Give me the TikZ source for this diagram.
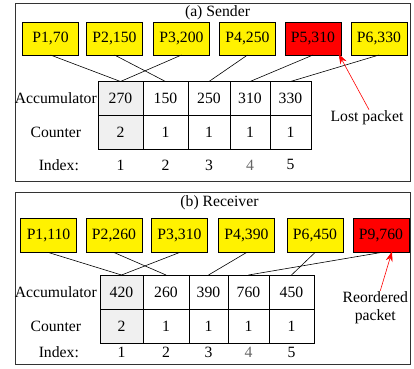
\documentclass[tikz,border=0pt]{standalone}
\usepackage{fontspec}
\setmainfont{Liberation Serif}
\usetikzlibrary{positioning, arrows.meta}

\begin{document}
\begin{tikzpicture}[
    x=1pt, y=-1pt, % Coordinates in points, y running downwards
    every node/.style={font=\fontsize{15.7}{18}\selectfont},
    packet/.style={draw, fill=yellow, minimum width=56pt, minimum height=33pt, inner sep=0pt}, % Style for packets
    lost/.style={packet, fill=red}, % Style for the marked packet
    cell/.style={draw, minimum width=#1, minimum height=34pt, inner sep=0pt, outer sep=0pt}, % Style for table cells
    cell/.default=42pt,
    shaded/.style={fill=black!6},
    rowlabel/.style={inner sep=1pt},
    idx/.style={inner sep=1pt},
    frame/.style={draw=black!80, line width=0.9pt},
    link/.style={line width=0.6pt},
    note/.style={-{Stealth[length=10pt, width=7pt]}, red, line width=0.6pt}
  ]
    \useasboundingbox (0,0) rectangle (414,368);

    % (a) Sender
    \draw[frame] (15,3) rectangle (410,181);
    \node (TS) at (217.5,13) {(a) Sender};

    % Define nodes
    \node[packet] (SP1) at (50.5,38.3)  {P1,70};
    \node[packet] (SP2) at (114.5,38.3) {P2,150};
    \node[packet] (SP3) at (181.5,38.3) {P3,200};
    \node[packet] (SP4) at (247.5,38.3) {P4,250};
    \node[lost]   (SP5) at (313,38.3)   {P5,310};
    \node[packet] (SP6) at (379,38.3)   {P6,330};

    \node[cell=45pt, shaded] (SA1) at (120.5,98.5)     {270};
    \node[cell=45pt] (SA2) [right=0pt of SA1]          {150};
    \node[cell=42pt] (SA3) [right=0pt of SA2]          {250};
    \node[cell=40pt] (SA4) [right=0pt of SA3]          {310};
    \node[cell=41pt] (SA5) [right=0pt of SA4]          {330};
    \node[cell=45pt, shaded] (SC1) [below=0pt of SA1]  {2};
    \node[cell=45pt] (SC2) [below=0pt of SA2]          {1};
    \node[cell=42pt] (SC3) [below=0pt of SA3]          {1};
    \node[cell=40pt] (SC4) [below=0pt of SA4]          {1};
    \node[cell=41pt] (SC5) [below=0pt of SA5]          {1};
    \node[idx] (SI1) [below=9pt of SC1]                {1};
    \node[idx] (SI2) [below=9pt of SC2]                {2};
    \node[idx] (SI3) [below=9pt of SC3]                {3};
    \node[idx, text=black!60] (SI4) [below=9pt of SC4] {4};
    \node[idx] (SI5) [below=9pt of SC5]                {5};

    \node[rowlabel] (SAL) [left=0pt of SA1]            {Accumulator};
    \node[rowlabel] (SCL) at (SAL |- SC1)              {Counter};
    \node[rowlabel] (SIL) at ([xshift=3pt]SAL |- SI1)  {Index:};
    \node[inner sep=1pt] (SN) at (367,118)             {Lost packet};

    % Draw links
    \draw[link] (SP1.south) -- (SA1.north);
    \draw[link] (SP2.south) -- (SA2.north);
    \draw[link] (SP3.south) -- (SA1.north);
    \draw[link] (SP4.south) -- (SA3.north);
    \draw[link] (SP5.south) -- (SA4.north);
    \draw[link] (SP6.south) -- (SA5.north);
    \draw[note] ([xshift=2pt]SN.north) -- ([xshift=-2.5pt, yshift=1pt]SP5.south east); % Lost packet arrow

    % (b) Receiver
    \draw[frame] (15,192) rectangle (410,364);
    \node (TR) at (219.5,203) {(b) Receiver};

    % Define nodes
    \node[packet, minimum height=34pt] (RP1) at (48.5,235.3)  {P1,110};
    \node[packet, minimum height=34pt] (RP2) at (114,235.3)   {P2,260};
    \node[packet, minimum height=34pt] (RP3) at (179.5,235.3) {P3,310};
    \node[packet, minimum height=34pt] (RP4) at (246.5,235.3) {P4,390};
    \node[packet, minimum height=34pt] (RP6) at (315,235.3)   {P6,450};
    \node[lost, minimum height=34pt]   (RP9) at (381,235.3)   {P9,760};

    \node[cell=43pt, shaded] (RA1) at (121.5,292)      {420};
    \node[cell=46pt] (RA2) [right=0pt of RA1]          {260};
    \node[cell=39pt] (RA3) [right=0pt of RA2]          {390};
    \node[cell=41pt] (RA4) [right=0pt of RA3]          {760};
    \node[cell=45pt] (RA5) [right=0pt of RA4]          {450};
    \node[cell=43pt, shaded] (RC1) [below=0pt of RA1]  {2};
    \node[cell=46pt] (RC2) [below=0pt of RA2]          {1};
    \node[cell=39pt] (RC3) [below=0pt of RA3]          {1};
    \node[cell=41pt] (RC4) [below=0pt of RA4]          {1};
    \node[cell=45pt] (RC5) [below=0pt of RA5]          {1};
    \node[idx] (RI1) [below=2.7pt of RC1]                {1};
    \node[idx] (RI2) [below=2.7pt of RC2]                {2};
    \node[idx] (RI3) [below=2.7pt of RC3]                {3};
    \node[idx, text=black!60] (RI4) [below=2.7pt of RC4] {4};
    \node[idx] (RI5) [below=2.7pt of RC5]                {5};

    \node[rowlabel] (RAL) [left=2pt of RA1]            {Accumulator};
    \node[rowlabel] (RCL) at (RAL |- RC1)              {Counter};
    \node[rowlabel] (RIL) at ([xshift=3pt]RAL |- RI1)  {Index:};
    \node[inner sep=1pt, align=center] (RN) at (375.3,308) {Reordered\\packet};

    % Draw links
    \draw[link] (RP1.south) -- (RA1.north);
    \draw[link] (RP2.south) -- (RA2.north);
    \draw[link] (RP3.south) -- (RA1.north);
    \draw[link] (RP4.south) -- (RA3.north);
    \draw[link] (RP6.south) -- (RA5.north);
    \draw[link] (RP9.south) -- (RA4.north);
    \draw[note] ([xshift=5pt]RN.north) -- ([xshift=11pt, yshift=1pt]RP9.south); % Reordered packet arrow
\end{tikzpicture}
\end{document}
